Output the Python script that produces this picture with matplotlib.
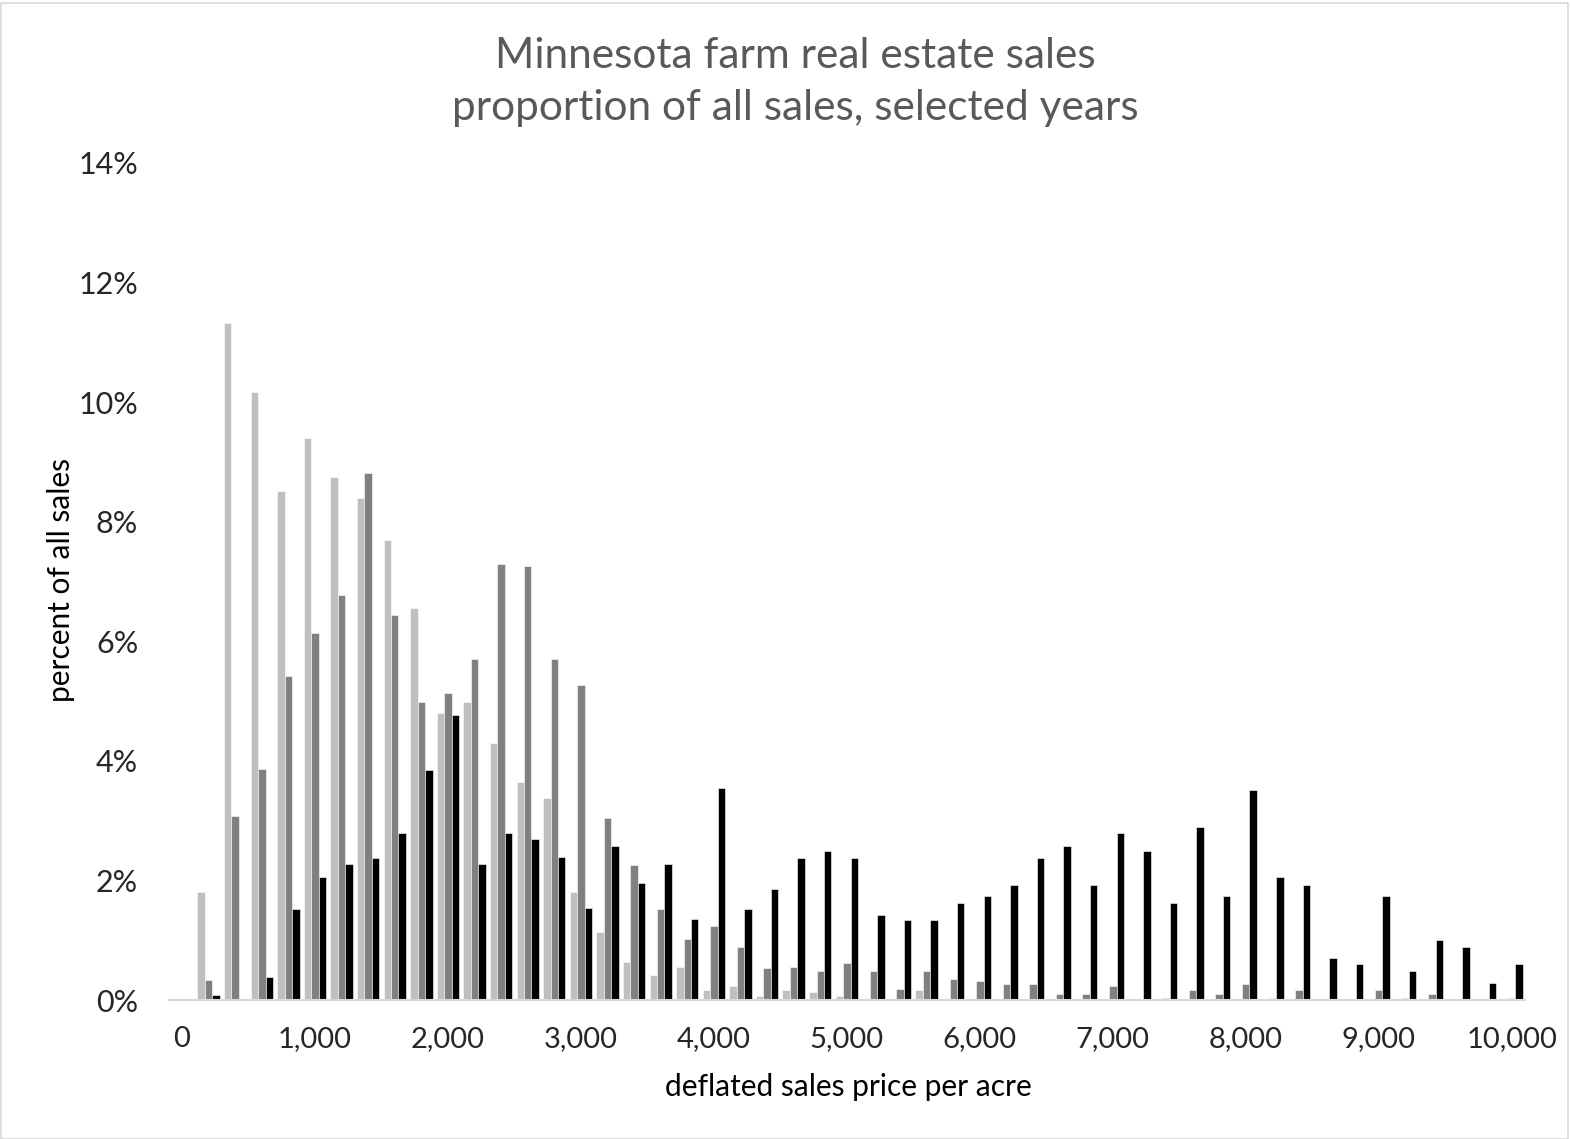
import matplotlib
matplotlib.use("Agg")
import matplotlib.pyplot as plt
import numpy as np
from matplotlib.patches import Rectangle

# ---- data ----
categories = list(range(0, 10001, 200))
tick_labels = ["0", "1,000", "2,000", "3,000", "4,000", "5,000",
               "6,000", "7,000", "8,000", "9,000", "10,000"]

series_light = [0, 1.81, 11.32, 10.17, 8.52, 9.40, 8.75, 8.39, 7.70, 6.55,
                4.80, 4.99, 4.30, 3.65, 3.38, 1.81, 1.13, 0.64, 0.42, 0.55,
                0.17, 0.24, 0.07, 0.16, 0.13, 0.07, 0.01, 0.02, 0.16, 0.01,
                0.02, 0.02, 0.02, 0.01, 0.02, 0.01, 0.02, 0.01, 0.01, 0.01,
                0.01, 0.02, 0.02, 0.01, 0.01, 0.01, 0.01, 0.01, 0.01, 0.01,
                0.02]
series_dark = [0, 0.33, 3.07, 3.87, 5.42, 6.14, 6.77, 8.82, 6.44, 4.99,
               5.13, 5.71, 7.30, 7.26, 5.71, 5.27, 3.05, 2.25, 1.52, 1.02,
               1.24, 0.89, 0.54, 0.56, 0.48, 0.62, 0.48, 0.18, 0.48, 0.35,
               0.32, 0.27, 0.27, 0.10, 0.10, 0.24, 0.02, 0.04, 0.16, 0.10,
               0.27, 0.04, 0.16, 0.02, 0.02, 0.16, 0.04, 0.10, 0.0, 0.02,
               0.04]
series_black = [0, 0.08, 0, 0.38, 1.53, 2.05, 2.28, 2.38, 2.79, 3.84,
                4.77, 2.28, 2.80, 2.69, 2.39, 1.54, 2.58, 1.95, 2.28, 1.35,
                3.54, 1.53, 1.86, 2.37, 2.49, 2.37, 1.42, 1.33, 1.33, 1.63,
                1.74, 1.93, 2.37, 2.57, 1.93, 2.79, 2.49, 1.63, 2.90, 1.74,
                3.52, 2.05, 1.93, 0.70, 0.60, 1.74, 0.48, 1.00, 0.89, 0.29,
                0.60]

colors = ["#BFBFBF", "#808080", "#000000"]

plt.rcParams['font.family'] = ['Lato', 'DejaVu Sans']

W, H = 1570, 1139
fig = plt.figure(figsize=(W / 100, H / 100), dpi=100)
fig.patch.set_facecolor("white")
fig.add_artist(Rectangle((0.5 / W, 0.5 / H), 1 - 3 / W, 1 - 3 / H,
                         transform=fig.transFigure, fill=False,
                         edgecolor="#D9D9D9", linewidth=1.2))

ax = fig.add_axes([168.7 / W, 1 - 1000 / H, (1525 - 168.7) / W, (1000 - 163) / H])

x = np.arange(len(categories))
bw = 0.28
for i, (vals, c) in enumerate(zip([series_light, series_dark, series_black], colors)):
    ax.bar(x + (i - 1) * bw, vals, width=bw, color=c, edgecolor="white",
           linewidth=0.4, zorder=2)

ax.set_xlim(-0.5, len(categories) - 0.5)
ax.set_ylim(0, 14)
ax.set_yticks(np.arange(0, 15, 2))
ax.set_yticklabels([f"{v}%" for v in range(0, 15, 2)])
label_pos = [i for i, c in enumerate(categories) if c % 1000 == 0]
ax.set_xticks(label_pos)
ax.set_xticklabels(tick_labels)

for s in ["top", "right", "left"]:
    ax.spines[s].set_visible(False)
ax.spines["bottom"].set_color("#D9D9D9")
ax.spines["bottom"].set_linewidth(1.5)

ax.tick_params(axis="both", length=0, colors="#262626")
ax.tick_params(axis="x", labelsize=21, pad=19)
ax.tick_params(axis="y", labelsize=22, pad=22)

fig.text(848 / W, 1 - 1087 / H, "deflated sales price per acre", ha="center",
         va="center", fontsize=21.5, color="#000000")
fig.text(61 / W, 1 - 580 / H, "percent of all sales", ha="center", va="center",
         rotation=90, fontsize=21.5, color="#000000")
fig.text(795 / W, 1 - 82 / H,
         "Minnesota farm real estate sales\nproportion of all sales, selected years",
         ha="center", va="center", fontsize=30.5, color="#595959", linespacing=1.43)

fig.savefig("out.png", dpi=100, facecolor="white")
